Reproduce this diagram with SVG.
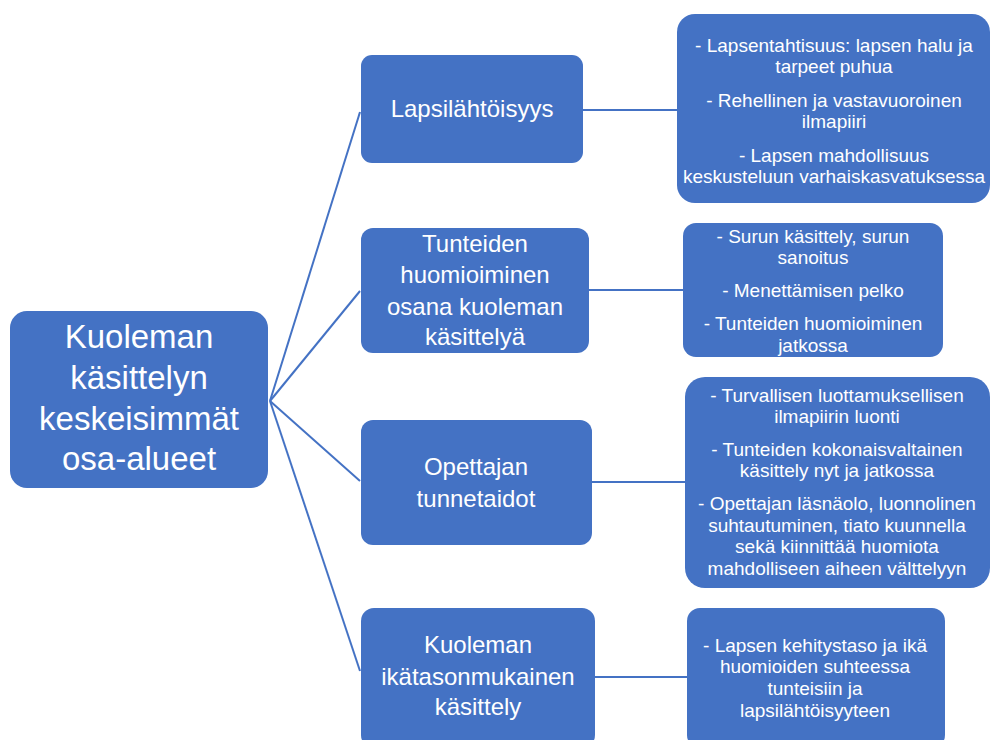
<svg xmlns="http://www.w3.org/2000/svg" width="992" height="740" viewBox="0 0 992 740">
<style>
.box{fill:#4472C4;}
.t{fill:#ffffff;font-family:"Liberation Sans",Arial,sans-serif;text-anchor:middle;}
.root{font-size:33px;}
.mid{font-size:24px;}
.leaf{font-size:19px;}
.edge{stroke:#4472C4;stroke-width:2;fill:none;}
</style>
<rect x="0" y="0" width="992" height="740" fill="#ffffff"/>
<g id="connectors">
<line class="edge" x1="270" y1="401" x2="360" y2="112"/>
<line class="edge" x1="270" y1="401" x2="360" y2="291"/>
<line class="edge" x1="270" y1="401" x2="360" y2="481"/>
<line class="edge" x1="270" y1="401" x2="360" y2="671"/>
<line class="edge" x1="583" y1="110" x2="677" y2="110"/>
<line class="edge" x1="589" y1="290" x2="683" y2="290"/>
<line class="edge" x1="592" y1="482" x2="685" y2="482"/>
<line class="edge" x1="595" y1="677" x2="687" y2="677"/>
</g>
<g id="root">
<rect class="box" x="10" y="311" width="258" height="177" rx="17"/>
<text class="t root" x="139"><tspan x="139" y="348">Kuoleman</tspan><tspan x="139" y="389">käsittelyn</tspan><tspan x="139" y="430">keskeisimmät</tspan><tspan x="139" y="470">osa-alueet</tspan></text>
</g>
<g id="n1">
<rect class="box" x="361" y="55" width="222" height="108" rx="11"/>
<text class="t mid" x="472" y="117">Lapsilähtöisyys</text>
</g>
<g id="n2">
<rect class="box" x="361" y="228" width="228" height="125" rx="12"/>
<text class="t mid"><tspan x="475" y="252">Tunteiden</tspan><tspan x="475" y="283">huomioiminen</tspan><tspan x="475" y="315">osana kuoleman</tspan><tspan x="475" y="345">käsittelyä</tspan></text>
</g>
<g id="n3">
<rect class="box" x="361" y="420" width="231" height="125" rx="12"/>
<text class="t mid"><tspan x="476" y="475">Opettajan</tspan><tspan x="476" y="507">tunnetaidot</tspan></text>
</g>
<g id="n4">
<rect class="box" x="361" y="608" width="234" height="140" rx="13"/>
<text class="t mid"><tspan x="478" y="653">Kuoleman</tspan><tspan x="478" y="685">ikätasonmukainen</tspan><tspan x="478" y="715">käsittely</tspan></text>
</g>
<g id="d1">
<rect class="box" x="677" y="14" width="313" height="189" rx="18"/>
<text class="t leaf"><tspan x="834" y="52">- Lapsentahtisuus: lapsen halu ja</tspan><tspan x="834" y="73">tarpeet puhua</tspan><tspan x="834" y="107">- Rehellinen ja vastavuoroinen</tspan><tspan x="834" y="128">ilmapiiri</tspan><tspan x="834" y="162">- Lapsen mahdollisuus</tspan><tspan x="834" y="183">keskusteluun varhaiskasvatuksessa</tspan></text>
</g>
<g id="d2">
<rect class="box" x="683" y="223" width="260" height="134" rx="13"/>
<text class="t leaf"><tspan x="813" y="243">- Surun käsittely, surun</tspan><tspan x="813" y="264">sanoitus</tspan><tspan x="813" y="297">- Menettämisen pelko</tspan><tspan x="813" y="330">- Tunteiden huomioiminen</tspan><tspan x="813" y="352">jatkossa</tspan></text>
</g>
<g id="d3">
<rect class="box" x="685" y="377" width="305" height="211" rx="20"/>
<text class="t leaf"><tspan x="837" y="402">- Turvallisen luottamuksellisen</tspan><tspan x="837" y="423">ilmapiirin luonti</tspan><tspan x="837" y="456">- Tunteiden kokonaisvaltainen</tspan><tspan x="837" y="477">käsittely nyt ja jatkossa</tspan><tspan x="837" y="510">- Opettajan läsnäolo, luonnolinen</tspan><tspan x="837" y="532">suhtautuminen, tiato kuunnella</tspan><tspan x="837" y="553">sekä kiinnittää huomiota</tspan><tspan x="837" y="575">mahdolliseen aiheen välttelyyn</tspan></text>
</g>
<g id="d4">
<rect class="box" x="687" y="608" width="258" height="140" rx="13"/>
<text class="t leaf"><tspan x="815" y="652">- Lapsen kehitystaso ja ikä</tspan><tspan x="815" y="673">huomioiden suhteessa</tspan><tspan x="815" y="695">tunteisiin ja</tspan><tspan x="815" y="717">lapsilähtöisyyteen</tspan></text>
</g>
</svg>
